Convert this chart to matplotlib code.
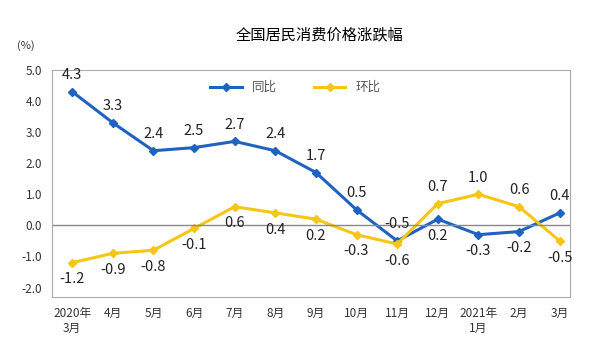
import matplotlib
matplotlib.use('Agg')
import matplotlib.pyplot as plt

plt.rcParams['font.family'] = ['Noto Sans CJK SC', 'DejaVu Sans']

months = ['2020年\n3月', '4月', '5月', '6月', '7月', '8月', '9月', '10月',
          '11月', '12月', '2021年\n1月', '2月', '3月']
yoy = [4.3, 3.3, 2.4, 2.5, 2.7, 2.4, 1.7, 0.5, -0.5, 0.2, -0.3, -0.2, 0.4]
mom = [-1.2, -0.9, -0.8, -0.1, 0.6, 0.4, 0.2, -0.3, -0.6, 0.7, 1.0, 0.6, -0.5]
# label above (1) or below (-1) the point
yoy_pos = [1, 1, 1, 1, 1, 1, 1, 1, 1, -1, -1, -1, 1]
mom_pos = [-1, -1, -1, -1, -1, -1, -1, -1, -1, 1, 1, 1, -1]

blue = '#1f62c0'
yellow = '#f5c518'

fig = plt.figure(figsize=(6.03, 3.53), dpi=100)
ax = fig.add_axes([0.086, 0.159, 0.859, 0.643])
x = list(range(len(months)))

ax.plot(x, yoy, color=blue, lw=2.2, marker='D', ms=4, label='同比')
ax.plot(x, mom, color=yellow, lw=2.2, marker='D', ms=4, label='环比')

for xi, v, p in zip(x, yoy, yoy_pos):
    ax.annotate(f'{v:.1f}', (xi, v), xytext=(0, 7 * p), textcoords='offset points',
                ha='center', va='bottom' if p > 0 else 'top', fontsize=10.5, color='#222222')
for xi, v, p in zip(x, mom, mom_pos):
    ax.annotate(f'{v:.1f}', (xi, v), xytext=(0, 7 * p), textcoords='offset points',
                ha='center', va='bottom' if p > 0 else 'top', fontsize=10.5, color='#222222')

ax.axhline(0, color='#888888', lw=1)
ax.set_xlim(-0.5, 12.25)
ax.set_ylim(-2.3, 5.0)
ax.set_yticks([-2, -1, 0, 1, 2, 3, 4, 5])
ax.set_yticklabels([f'{t:.1f}' for t in [-2, -1, 0, 1, 2, 3, 4, 5]], fontsize=8.5)
ax.set_xticks(x)
ax.set_xticklabels(months, fontsize=8.5, va='top')
ax.tick_params(axis='both', length=0, pad=7, colors='#333333')
for s in ax.spines.values():
    s.set_color('#aaaaaa')

ax.legend(loc='upper center', ncol=2, frameon=False, fontsize=9,
          bbox_to_anchor=(0.47, 1.0), handlelength=2.5, columnspacing=3,
          labelcolor='#555555')

fig.text(0.53, 0.9, '全国居民消费价格涨跌幅', ha='center', va='center', fontsize=11)
fig.text(0.042, 0.87, '(%)', ha='center', va='center', fontsize=8, color='#333333')

fig.savefig('out.png', dpi=100)
